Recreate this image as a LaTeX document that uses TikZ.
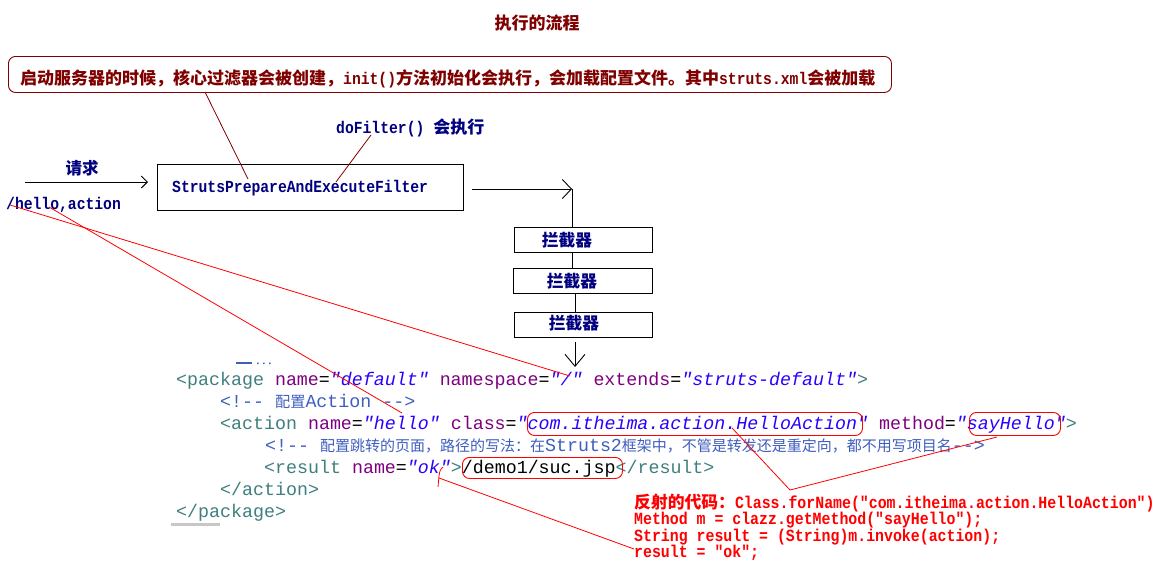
\documentclass[tikz,border=0pt]{standalone}
\usepackage{fontspec}
\setmonofont{Liberation Mono}
\newfontfamily\smono{Liberation Mono}[FakeStretch=0.87]
\newfontfamily\cjk{Noto Sans CJK SC}
\usetikzlibrary{arrows.meta}
\definecolor{navy}{HTML}{000080}
\definecolor{dred}{HTML}{800000}
\definecolor{xtagc}{HTML}{3F7F7F}
\definecolor{xattrc}{HTML}{7F007F}
\definecolor{xvalc}{HTML}{2A00FF}
\definecolor{xcomc}{HTML}{3F5FBF}
\newcommand\zh[2]{{\cjk\fontsize{#1}{#1}\selectfont #2}}
\newcommand\ms[1]{\ttfamily\fontsize{#1}{#1}\selectfont}
\newcommand\smf[1]{\smono\fontsize{#1}{#1}\selectfont}
\newcommand\xt[1]{\textcolor{xtagc}{#1}}
\newcommand\xa[1]{\textcolor{xattrc}{#1}}
\newcommand\xv[1]{\textcolor{xvalc}{\itshape #1}}
\newcommand\xc[1]{\textcolor{xcomc}{#1}}
\begin{document}
\begin{tikzpicture}[x=1pt,y=-1pt,
  box/.style={draw=black,line width=0.9pt,inner sep=0,anchor=north west},
  lbl/.style={anchor=base west,inner sep=0},
  navytxt/.style={lbl,text=navy,font={\smf{16.9}\bfseries}},
  code/.style={lbl,font={\ms{18.3}}},
  redtxt/.style={lbl,text=red,font={\smf{17.1}\bfseries}},
  redbox/.style={draw=red,line width=0.9pt,rounded corners=7pt,inner sep=0,anchor=north west},
  redline/.style={draw=red,line width=0.8pt},
  leader/.style={draw=dred,line width=0.8pt},
  plain/.style={draw=black,line width=0.9pt}]
\fill[white] (0,0) rectangle (1163,581);
\useasboundingbox (0,0) rectangle (1163,581);

% title
\node[text=dred,inner sep=0] (title) at (537,23) {\zh{17}{\bfseries 执行的流程}};

% callout
\node[draw=dred,line width=0.9pt,rounded corners=7pt,inner sep=0,anchor=north west,
      minimum width=883pt,minimum height=36pt] (cb) at (8,56) {};
\node[lbl,text=dred,font={\smf{16.9}\bfseries}] (ct) at (20,84)
  {\zh{17}{启动服务器的时候，核心过滤器会被创建，}init()\zh{17}{方法初始化会执行，会加载配置文件。其中}struts.xml\zh{17}{会被加载}};

% filter
\node[box,minimum width=306pt,minimum height=46pt] (filter) at (157,164) {};
\node[navytxt] (ft) at (172,192) {StrutsPrepareAndExecuteFilter};
\node[navytxt] (df) at (336,133) {doFilter() \zh{17}{会执行}};
\node[text=navy,inner sep=0] (req) at (82,168) {\zh{16.5}{\bfseries 请求}};
\node[navytxt] (ha) at (6,209) {/hello,action};

\coordinate (l1a) at (205,92);
\coordinate (l1b) at (248,179);
\coordinate (l2a) at (371,135);
\coordinate (l2b) at (336,182);
\draw[leader] (l1a) -- (l1b);
\draw[leader] (l2a) -- (l2b);

% arrows
\coordinate (in0) at (25,182);
\coordinate (in1) at (148,182);
\draw[plain,-{Straight Barb[length=6pt,width=12pt]}] (in0) -- (in1);
\coordinate (o0) at (472,189);
\coordinate (o1) at (572,189);
\draw[plain,-{Straight Barb[length=9pt,width=19pt]}] (o0) -- (o1);

% interceptors
\node[box,minimum width=138pt,minimum height=25pt] (i1) at (514,227) {};
\node[box,minimum width=139pt,minimum height=25pt] (i2) at (513,268) {};
\node[box,minimum width=138pt,minimum height=25pt] (i3) at (514,312) {};
\node[text=navy,inner sep=0] (t1) at (567,240) {\zh{16.7}{\bfseries 拦截器}};
\node[text=navy,inner sep=0] (t2) at (572,281) {\zh{16.7}{\bfseries 拦截器}};
\node[text=navy,inner sep=0] (t3) at (574,323) {\zh{16.7}{\bfseries 拦截器}};
\draw[plain] (o1) -- (o1 |- i1.north);
\draw[plain] (i1.south -| o1) -- (i2.north -| o1);
\coordinate (dn0) at (575,342);
\coordinate (dn1) at (575,367);
\draw[plain] (i2.south -| dn0) -- (i3.north -| dn0);
\draw[plain,-{Straight Barb[length=12pt,width=20pt]}] (dn0) -- (dn1);

% code
\draw[xcomc,line width=1.3pt] (236,363) -- (252,363);
\fill[xcomc] (257,362.5) rectangle +(1.5,1.5) (263,362.5) rectangle +(1.5,1.5) (269,362.5) rectangle +(1.5,1.5);
\node[code] (c1) at (176,385) {\xt{<package} \xa{name}=\xv{"default"} \xa{namespace}=\xv{"/"} \xa{extends}=\xv{"struts-default"}\xt{>}};
\node[code] (c2) at (220,407) {\xc{<!-- \zh{15.2}{配置}Action -->}};
\node[code] (c3) at (220,429) {\xt{<action} \xa{name}=\xv{"hello"} \xa{class}=\xv{"com.itheima.action.HelloAction"} \xa{method}=\xv{"sayHello"}\xt{>}};
\node[code] (c4) at (265,451) {\xc{<!-- \zh{15.0}{配置跳转的页面，路径的写法：在}Struts2\zh{15.0}{框架中，不管是转发还是重定向，都不用写项目名}-->}};
\node[code] (c5) at (264,473) {\xt{<result} \xa{name}=\xv{"ok"}\xt{>}/demo1/suc.jsp\xt{</result>}};
\node[code] (c6) at (220,495) {\xt{</action>}};
\node[code] (c7) at (176,517) {\xt{</package>}};
\draw[black!22,line width=2.5pt] (171,524.5) -- (220,524.5);

% red annotations
\node[redbox,minimum width=335pt,minimum height=23pt] (rb1) at (527,412) {};
\node[redbox,minimum width=91pt,minimum height=23pt] (rb2) at (969,412) {};
\node[redbox,minimum width=160pt,minimum height=21pt] (rb3) at (462,457) {};
\draw[redline] (443,467) .. controls (440,470) .. (439,476) -- (438,487);

\coordinate (h1) at (10,205);
\coordinate (h2) at (49,207);
\coordinate (ns) at (570,376);
\coordinate (hl) at (402,413);
\coordinate (cls) at (732,428);
\coordinate (vb) at (790,490);
\coordinate (say) at (997,437);
\coordinate (ok) at (439,478);
\coordinate (res) at (634,549);
\draw[redline] (h1) -- (ns);
\draw[redline] (h2) -- (hl);
\draw[redline] (cls) -- (vb) -- (say);
\draw[redline] (ok) -- (res);

\node[redtxt] (r1) at (634,508) {\zh{16.8}{反射的代码：}Class.forName("com.itheima.action.HelloAction")};
\node[redtxt] (r2) at (634,524.5) {Method m = clazz.getMethod("sayHello");};
\node[redtxt] (r3) at (634,541) {String result = (String)m.invoke(action);};
\node[redtxt] (r4) at (634,557.5) {result = "ok";};
\end{tikzpicture}
\end{document}
